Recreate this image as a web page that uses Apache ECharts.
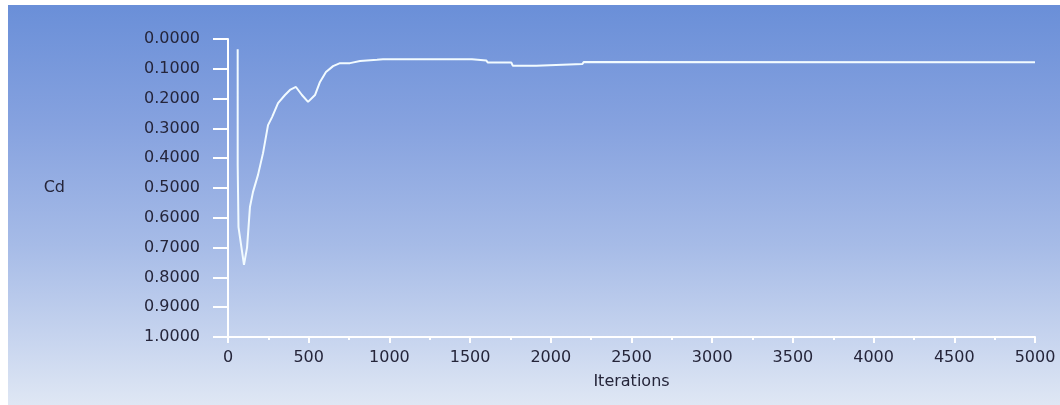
<!DOCTYPE html>
<html>
<head>
<meta charset="utf-8">
<script src="https://cdn.jsdelivr.net/npm/echarts@6/dist/echarts.min.js"></script>
<style>
  html, body { margin: 0; padding: 0; background: #fff; }
  #chart {
    position: absolute; left: 8px; top: 5px; width: 1052px; height: 400px;
    background: linear-gradient(to bottom, #6a8fd8 0%, #86a2df 30%, #a6bbe7 60%, #c9d6ef 85%, #dfe7f4 100%);
  }
</style>
</head>
<body>
<div id="chart"></div>
<script>
// iterations (x) and drag coefficient (y)
var iterations = [60, 60, 65, 99, 118, 136, 155, 186, 217, 248, 273, 310, 353, 384, 421, 458, 496, 539, 570, 607, 651, 694, 756, 818, 923, 960,
                  1512, 1520, 1600, 1610, 1755, 1765, 1910, 1920, 2195, 2205, 5000];
var cdValues   = [0.034, 0.423, 0.631, 0.758, 0.700, 0.564, 0.513, 0.456, 0.383, 0.289, 0.262, 0.215, 0.188, 0.171, 0.161, 0.188, 0.211, 0.188, 0.144, 0.111, 0.091, 0.081, 0.081, 0.074, 0.070, 0.068,
                  0.068, 0.072, 0.072, 0.079, 0.079, 0.090, 0.090, 0.084, 0.084, 0.077, 0.078];
var yTickLabels = ['0.0000', '0.1000', '0.2000', '0.3000', '0.4000', '0.5000', '0.6000', '0.7000', '0.8000', '0.9000', '1.0000'];
var xName = 'Iterations';
var yName = 'Cd';

var myChart = echarts.init(document.getElementById('chart'));
var pts = iterations.map(function (it, i) { return [it, cdValues[i]]; });

var labelStyle = {
    color: '#25253a',
    fontFamily: 'DejaVu Sans',
    fontSize: 16
};

var option = {
    animation: false,
    grid: { left: 220, top: 34, right: 25, bottom: 68 },
    xAxis: {
        type: 'value',
        position: 'bottom',
        min: 0,
        max: 5000,
        interval: 500,
        name: xName,
        nameLocation: 'middle',
        nameGap: 37,
        nameTextStyle: labelStyle,
        axisLine: { onZero: false, lineStyle: { color: '#ffffff', width: 2 } },
        axisTick: { length: 6, lineStyle: { color: '#ffffff', width: 2 } },
        minorTick: { show: true, splitNumber: 2, length: 3, lineStyle: { color: '#ffffff', width: 2 } },
        axisLabel: Object.assign({
            margin: 13,
            formatter: function (v) { return String(v); }
        }, labelStyle),
        splitLine: { show: false }
    },
    yAxis: {
        type: 'value',
        inverse: true,
        min: 0,
        max: 1,
        interval: 0.1,
        name: yName,
        nameLocation: 'middle',
        nameRotate: 0,
        nameGap: 163,
        nameTextStyle: labelStyle,
        axisLine: { onZero: false, lineStyle: { color: '#ffffff', width: 2 } },
        axisTick: { length: 15, lineStyle: { color: '#ffffff', width: 2 } },
        axisLabel: Object.assign({
            margin: 28,
            hideOverlap: false,
            formatter: function (v) { return yTickLabels[Math.round(v * 10)]; }
        }, labelStyle),
        splitLine: { show: false }
    },
    series: [{
        type: 'line',
        data: pts,
        showSymbol: false,
        smooth: false,
        lineStyle: { color: '#f2fbff', width: 2 }
    }]
};
myChart.setOption(option);
</script>
</body>
</html>
